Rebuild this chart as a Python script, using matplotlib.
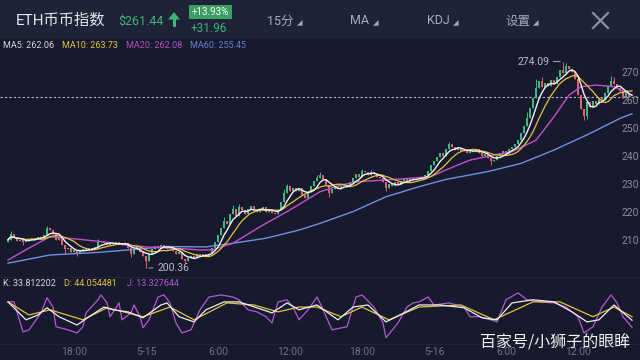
# ETH币币指数 15分 K线 + MA + KDJ 重现
import numpy as np
import pandas as pd
import matplotlib
matplotlib.use('Agg')
import matplotlib.pyplot as plt
from matplotlib.patches import Rectangle, Polygon
from matplotlib.lines import Line2D

plt.rcParams['font.family'] = ['Roboto', 'Noto Sans CJK SC', 'DejaVu Sans']

# 15分钟收盘价 (5-14 12:30 ~ 5-16 16:30)
closes = [
    210.5, 212.5, 211.0, 210.0, 210.5, 209.5, 210.0, 210.8,
    211.2, 210.6, 211.5, 211.0, 212.0, 214.5, 214.0, 212.5,
    210.5, 211.0, 208.5, 207.0, 207.5, 206.2, 206.8, 205.8,
    206.5, 207.2, 206.8, 207.5, 207.0, 208.0, 209.5, 210.0,
    209.2, 208.5, 209.3, 208.8, 209.5, 209.0, 208.4, 209.2,
    207.5, 205.5, 207.0, 207.8, 206.0, 204.5, 203.0, 205.5,
    207.0, 208.2, 207.5, 208.5, 208.0, 207.2, 207.8, 206.5,
    205.5, 206.0, 203.5, 202.8, 203.8, 204.5, 204.0, 205.2,
    204.5, 205.5, 204.8, 205.5, 207.5, 209.5, 212.0, 214.5,
    217.0, 216.0, 219.5, 221.5, 219.0, 222.0, 221.0, 219.5,
    221.5, 222.5, 221.0, 220.5, 221.0, 222.0, 220.5, 221.5,
    220.0, 219.5, 221.0, 224.0, 227.0, 229.5, 228.0, 229.0,
    228.0, 229.0, 226.5, 225.5, 227.5, 229.5, 231.5, 232.5,
    233.5, 232.0, 230.0, 227.0, 228.5, 229.5, 228.8, 229.5,
    230.0, 229.2, 231.0, 232.5, 234.0, 233.0, 235.0, 234.5,
    233.5, 234.5, 233.8, 233.0, 232.5, 231.0, 229.0, 230.5,
    229.5, 231.0, 230.0, 231.5, 232.0, 231.5, 232.5, 231.8,
    232.2, 233.0, 232.5, 233.5, 235.0, 237.0, 238.5, 240.0,
    241.5, 240.5, 243.0, 244.5, 243.5, 242.5, 243.2, 242.0,
    242.5, 241.5, 242.5, 241.8, 242.8, 241.5, 240.5, 241.0,
    239.5, 238.5, 239.0, 240.5, 241.5, 242.0, 241.2, 243.0,
    243.5, 244.5, 246.0, 248.5, 251.0, 254.0, 257.5, 261.0,
    264.5, 267.0, 265.0, 266.5, 265.5, 267.5, 266.0, 268.5,
    271.0, 270.0, 272.5, 271.5, 270.5, 268.0, 262.0, 257.0,
    254.5, 259.5, 258.0, 260.0, 259.0, 261.0, 260.2, 263.0,
    265.5, 267.0, 266.0, 264.5, 263.5, 261.0, 262.8, 261.6,
    261.44,
]
first_open = 209.8

# 明显的上下影线 (最高/最低价)
wick_hi = {1: 213.5, 13: 215.5, 30: 210.8, 72: 218.5, 75: 223.0, 77: 223.2,
           92: 228.5, 93: 230.5, 103: 233.5, 104: 234.5, 118: 235.8, 121: 235.5,
           147: 245.5, 173: 256.0, 176: 268.0, 178: 268.5, 185: 274.09,
           186: 273.5, 201: 269.0, 202: 268.5}
wick_lo = {5: 208.5, 19: 205.5, 23: 204.8, 41: 204.3, 46: 200.36, 59: 201.8,
           107: 225.8, 126: 228.0, 161: 237.0, 192: 253.2, 193: 253.5}

# MA20 / MA60 从图上读取
ma20_idx = [0, 7, 14, 22, 31, 39, 47, 56, 64, 68, 75, 84, 94, 104, 111, 117,
            126, 134, 141, 146, 154, 162, 168, 176, 182, 187, 191, 196, 202, 208]
ma20_val = [203.2, 207.5, 211.5, 210.8, 209.8, 208.6, 207.8, 207.4, 206.8, 206.8,
            209.2, 215.1, 221.1, 227.6, 230.0, 231.2, 231.8, 232.4, 233.0, 235.4,
            238.9, 240.7, 241.9, 246.0, 254.4, 262.1, 265.1, 265.7, 265.1, 262.08]
ma60_idx = [0, 14, 31, 42, 53, 66, 75, 86, 97, 104, 115, 126, 137, 146, 160,
            171, 182, 193, 204, 208]
ma60_val = [202.1, 205.0, 206.0, 207.0, 208.0, 207.9, 209.2, 211.0, 213.9, 216.3,
            220.5, 225.8, 229.4, 232.0, 234.8, 237.7, 242.5, 247.9, 253.8, 255.45]

# KDJ 从图上读取
j_idx = [0, 2, 5, 7, 11, 13, 15, 16, 20, 23, 25, 26, 30, 31, 33, 34, 36, 37, 38,
         41, 42, 44, 45, 47, 50, 52, 54, 56, 58, 61, 64, 67, 71, 75, 77, 80, 83,
         86, 88, 90, 93, 95, 97, 100, 103, 104, 108, 113, 116, 118, 122, 125, 126,
         130, 133, 135, 137, 140, 142, 147, 152, 154, 157, 161, 163, 166, 170, 173,
         177, 182, 186, 190, 192, 195, 198, 201, 203, 205, 208]
j_val = [87, 87, 0, 6, 55, 99, 72, 15, 6, -3, 15, 55, 93, 107, 84, 44, 70, 84, 35,
         55, 78, 44, 12, 35, 101, 107, 84, 26, -3, 6, 64, 101, 107, 101, 93, 64, 58,
         44, 26, 87, 93, 72, 35, 64, 101, 84, 6, 15, 101, 107, 72, 26, -17,
         26, 72, 84, 87, 101, 78, 84, 72, 44, 44, 35, 29, 93, 113, 93,
         87, 84, 72, 44, -3, 15, 72, 107, 84, 44, 13.33]
k_idx = [0, 6, 10, 13, 17, 23, 27, 32, 35, 40, 45, 51, 53, 57, 62, 66, 72, 77,
         85, 88, 93, 97, 103, 104, 110, 115, 120, 126, 132, 137, 144, 152, 158,
         163, 168, 175, 182, 188, 193, 197, 202, 208]
k_val = [87, 35, 49, 70, 44, 20, 44, 72, 64, 58, 41, 78, 84, 44, 29, 64, 87, 87,
         64, 55, 84, 64, 78, 72, 35, 72, 78, 29, 55, 78, 78, 70, 41,
         35, 84, 93, 87, 58, 29, 35, 78, 33.81]
d_idx = [0, 7, 14, 25, 33, 45, 54, 62, 73, 82, 90, 97, 103, 111, 118, 127, 137,
         151, 162, 175, 184, 195, 202, 208]
d_val = [87, 49, 64, 35, 70, 44, 72, 35, 84, 78, 58, 72, 72, 44, 72, 35, 72,
         78, 35, 87, 87, 44, 72, 44.05]

tick_idx = [22, 46, 70, 94, 118, 142, 166, 190]
tick_lab = ['18:00', '5-15', '6:00', '12:00', '18:00', '5-16', '6:00', '12:00']
price_ticks = [210, 220, 230, 240, 250, 260, 270]

# 颜色
BG = '#171a2d'
HEAD = '#1f2337'
UP = '#3dba7d'
DOWN = '#e0606e'
C_MA5, C_MA10, C_MA20, C_MA60 = '#f2f2f4', '#e6c13c', '#c64fd0', '#7290e0'
C_K, C_D, C_J = '#ecedf2', '#e2c23c', '#b457d6'
GRAY = '#8a8e9c'

df = pd.DataFrame({'close': closes})
df['open'] = [first_open] + closes[:-1]
df['high'] = df[['open', 'close']].max(axis=1)
df['low'] = df[['open', 'close']].min(axis=1)
for i, v in wick_hi.items():
    df.loc[i, 'high'] = max(df.loc[i, 'high'], v)
for i, v in wick_lo.items():
    df.loc[i, 'low'] = min(df.loc[i, 'low'], v)
df['ma5'] = df['close'].rolling(5, min_periods=1).mean()
df['ma10'] = df['close'].rolling(10, min_periods=1).mean()

x = np.arange(len(df))

def fx(px):
    return px / 640

def fy(py):
    return 1 - py / 360

fig = plt.figure(figsize=(6.4, 3.6), dpi=100, facecolor=BG)
fig.patches.append(Rectangle((0, fy(38)), 1, 38 / 360, transform=fig.transFigure,
                             color=HEAD, zorder=0))

ax = fig.add_axes([0, fy(276), 1, (276 - 38) / 360])
ax2 = fig.add_axes([0, fy(344), 1, (344 - 277) / 360])
for a in (ax, ax2):
    a.set_facecolor('none')
    a.set_xlim(-8 / 3, (640 - 8) / 3)
    for s in a.spines.values():
        s.set_visible(False)
    a.tick_params(length=0)
    a.set_yticks([])

# K线
up = df['close'] >= df['open']
cols = np.where(up, UP, DOWN)
body = (df['close'] - df['open']).abs().clip(lower=0.15)
ax.vlines(x, df['low'], df['high'], colors=cols, lw=0.7, zorder=2)
ax.bar(x, body, bottom=df[['open', 'close']].min(axis=1), width=0.65,
       color=cols, lw=0, zorder=2)

ax.plot(ma60_idx, ma60_val, color=C_MA60, lw=1.0, zorder=3)
ax.plot(ma20_idx, ma20_val, color=C_MA20, lw=1.0, zorder=3)
ax.plot(x, df['ma10'], color=C_MA10, lw=0.9, zorder=4)
ax.plot(x, df['ma5'], color=C_MA5, lw=1.0, zorder=5)

ax.set_ylim(197.5, 282.5)
ax.set_xticks([])
ax.axhline(closes[-1], color='#b4b8c6', lw=0.8, ls=(0, (2, 2)), zorder=1)
for p in price_ticks:
    ax.text(0.999, p, str(p), transform=ax.get_yaxis_transform(), ha='right',
            va='center', color=GRAY, fontsize=7.5, zorder=6)

# 最高/最低标注
ih = int(df['high'].idxmax())
il = int(df['low'].idxmin())
ax.annotate(f"{df['high'].max():.2f}", xy=(ih, df['high'].max()), xytext=(-10, 0),
            textcoords='offset points', ha='right', va='center', color='#b8bcc8',
            fontsize=7.5, arrowprops=dict(arrowstyle='-', color='#b8bcc8', lw=0.6,
                                          shrinkA=1, shrinkB=2))
ax.annotate(f"{df['low'].min():.2f}", xy=(il, df['low'].min()), xytext=(8, 0),
            textcoords='offset points', ha='left', va='center', color='#b8bcc8',
            fontsize=7.5, arrowprops=dict(arrowstyle='-', color='#b8bcc8', lw=0.6,
                                          shrinkA=1, shrinkB=2))

# KDJ
ax2.plot(j_idx, j_val, color=C_J, lw=0.9)
ax2.plot(d_idx, d_val, color=C_D, lw=0.9)
ax2.plot(k_idx, k_val, color=C_K, lw=0.9)
ax2.set_ylim(-35, 159)
ax2.set_xticks(tick_idx)
ax2.set_xticklabels(tick_lab, color='#6e7385', fontsize=7.5)
ax2.tick_params(axis='x', pad=2.5)
for yy in (277, 344):
    fig.add_artist(Line2D([0, 1], [fy(yy), fy(yy)], color='#23273c', lw=0.6))

# 顶部栏
fig.text(fx(16), fy(21), 'ETH币币指数', color='#e6e8ee', fontsize=11, va='center')
fig.text(fx(118), fy(21), '$261.44', color='#3fb37b', fontsize=9, va='center')
# 上涨箭头
fig.patches.append(Rectangle((fx(172.5), fy(27)), fx(3), 16 / 360 - 8 / 360,
                             transform=fig.transFigure, color='#3fb37b', lw=0))
fig.patches.append(Polygon([(fx(168), fy(19.5)), (fx(180), fy(19.5)), (fx(174), fy(12))],
                           closed=True, transform=fig.transFigure, color='#3fb37b', lw=0))
fig.text(fx(210.5), fy(12), '+13.93%', color='white', fontsize=7, ha='center', va='center',
         bbox=dict(boxstyle='square,pad=0.25', fc='#3c9e63', ec='none'))
fig.text(fx(191), fy(28), '+31.96', color='#3fb37b', fontsize=8.5, va='center')
for txt, px0, tri in [('15分', 267, 300), ('MA', 350, 376), ('KDJ', 427, 456), ('设置', 505, 536)]:
    fig.text(fx(px0), fy(21), txt, color='#a8acb8', fontsize=9, va='center')
    fig.text(fx(tri), fy(24), '◢', color='#a8acb8', fontsize=4, ha='center', va='center')
fig.add_artist(Line2D([fx(593), fx(608)], [fy(13), fy(28)], color='#8c909c', lw=1.6))
fig.add_artist(Line2D([fx(593), fx(608)], [fy(28), fy(13)], color='#8c909c', lw=1.6))

# MA / KDJ 数值
for txt, px0, c in [('MA5: 262.06', 3, '#d6d8de'), ('MA10: 263.73', 62, C_MA10),
                    ('MA20: 262.08', 126, '#b650c4'), ('MA60: 255.45', 190, '#6382d2')]:
    fig.text(fx(px0), fy(46), txt, color=c, fontsize=6.5, va='center')
for txt, px0, c in [('K: 33.812202', 3, '#d6d8de'), ('D: 44.054481', 64, C_D),
                    ('J: 13.327644', 127, C_J)]:
    fig.text(fx(px0), fy(283), txt, color=c, fontsize=6.5, va='center')

fig.text(fx(480), fy(342), '百家号/小狮子的眼眸', color='#f2f2f2', fontsize=11.5,
         va='center', family=['Noto Sans CJK SC', 'DejaVu Sans'])

fig.savefig('out.png', dpi=100, facecolor=BG)
